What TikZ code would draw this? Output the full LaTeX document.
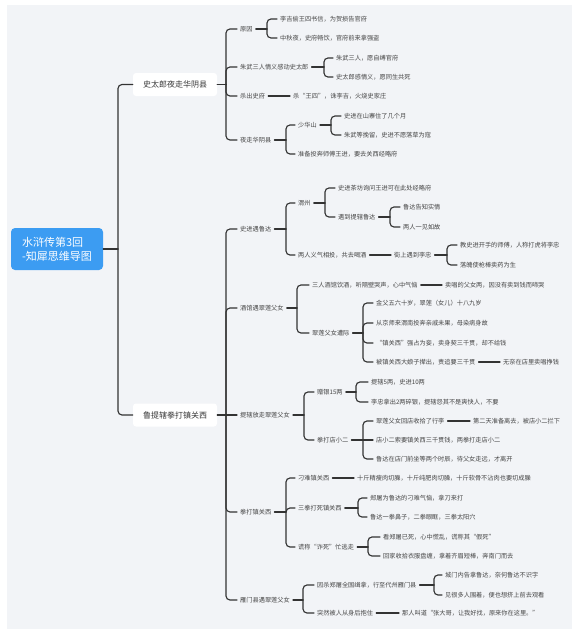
\documentclass[tikz,border=0pt]{standalone}
\usepackage{fontspec}
\setmainfont{Noto Sans CJK SC}
\newfontfamily\cjk{Noto Sans CJK SC}
\definecolor{bgc}{HTML}{F2F4F7}
\definecolor{linec}{HTML}{333333}
\definecolor{textc}{HTML}{444444}
\definecolor{rootc}{HTML}{3C9CF2}
\tikzset{
  txt/.style={anchor=west, inner xsep=3pt, inner ysep=1pt, font=\cjk\fontsize{6.2}{7.5}\selectfont, text=textc},
  branchbox/.style={fill=white, rounded corners=3pt, minimum width=84pt, minimum height=23pt, inner sep=0pt, font=\cjk\fontsize{8}{9}\selectfont, text=textc!80!black},
  rootbox/.style={fill=rootc, rounded corners=4pt, minimum width=92pt, minimum height=42pt, inner sep=0pt, text=white, font=\cjk\fontsize{11}{14}\selectfont, align=left},
  link/.style={draw=linec, line width=1.15pt, line cap=round},
  brk/.style={link, rounded corners=4pt},
}
\newcommand\nd[4]{\node[txt] (#1) at (#2,#3) {#4};}
\newcommand\kid[2]{\draw[brk] (#1) -- (#1 |- #2.west) -- (#2.west);}
\newcommand\straight[2]{\draw[link] (#1) -- (#2.west);}
\newcommand\jn[3]{\coordinate (#1) at (#2,#3);}
\begin{document}
\begin{tikzpicture}[x=1pt,y=-1pt]
\useasboundingbox (0,0) rectangle (576,634);
\fill[white] (0,0) rectangle (576,634);
\fill[bgc] (7,5) rectangle (572,629);

% root
\node[rootbox] (root) at (57,249) {水浒传第3回\\-知犀思维导图};
\node[branchbox] (b1) at (175,84.5) {史太郎夜走华阴县};
\node[branchbox] (b2) at (175,415) {鲁提辖拳打镇关西};
\jn{rj}{118}{249}
\draw[link] (root.east) -- (rj);
\draw[brk] (rj) -- (rj |- b1.west) -- (b1.west);
\draw[brk] (rj) -- (rj |- b2.west) -- (b2.west);

% ===== branch 1 =====
\nd{n11}{237}{29}{原因}
\nd{n12}{237}{67}{朱武三人情义感动史太郎}
\nd{n13}{237}{96}{杀出史府}
\nd{n14}{237}{140}{夜走华阴县}
\jn{j1}{226}{84.5}
\draw[link] (b1.east) -- (j1);
\kid{j1}{n11}\kid{j1}{n12}\kid{j1}{n13}\kid{j1}{n14}

\nd{n111}{277}{19}{李吉偷王四书信，为贺损告官府}
\nd{n112}{277}{38}{中秋夜，史府畅饮，官府前来拿强盗}
\jn{j11}{267}{29}
\draw[link] (n11.east) -- (j11);
\kid{j11}{n111}\kid{j11}{n112}

\nd{n121}{333}{58}{朱武三人，愿自缚官府}
\nd{n122}{333}{77}{史太郎感情义，愿同生共死}
\jn{j12}{324}{67}
\draw[link] (n12.east) -- (j12);
\kid{j12}{n121}\kid{j12}{n122}

\nd{n131}{290}{96}{杀“王四”，诛李吉，火烧史家庄}
\draw[link] (n13.east) -- (n131.west);

\nd{n141}{295}{125}{少华山}
\nd{n142}{295}{154}{准备投奔师傅王进，要去关西经略府}
\jn{j14}{286}{140}
\draw[link] (n14.east) -- (j14);
\kid{j14}{n141}\kid{j14}{n142}

\nd{n1411}{341}{116}{史进在山寨住了几个月}
\nd{n1412}{341}{135}{朱武等挽留，史进不愿落草为寇}
\jn{j141}{331}{125}
\draw[link] (n141.east) -- (j141);
\kid{j141}{n1411}\kid{j141}{n1412}

% ===== branch 2 =====
\nd{n21}{237}{229}{史进遇鲁达}
\nd{n22}{237}{308}{酒馆遇翠莲父女}
\nd{n23}{237}{415}{提辖放走翠莲父女}
\nd{n24}{237}{512}{拳打镇关西}
\nd{n25}{237}{600}{雁门县遇翠莲父女}
\jn{j2}{226}{415}
\draw[link] (b2.east) -- (j2);
\kid{j2}{n21}\kid{j2}{n22}\straight{j2}{n23}\kid{j2}{n24}\kid{j2}{n25}

% 史进遇鲁达
\nd{n211}{295}{203}{渭州}
\nd{n212}{295}{255}{两人义气相投，共去喝酒}
\jn{j21}{286}{229}
\draw[link] (n21.east) -- (j21);
\kid{j21}{n211}\kid{j21}{n212}

\nd{n2111}{335}{188}{史进茶坊询问王进可在此处经略府}
\nd{n2112}{335}{217}{遇到提辖鲁达}
\jn{j211}{325}{203}
\draw[link] (n211.east) -- (j211);
\kid{j211}{n2111}\kid{j211}{n2112}

\nd{n21121}{400}{207}{鲁达告知实情}
\nd{n21122}{400}{227}{两人一见如故}
\jn{j2112}{390}{217}
\draw[link] (n2112.east) -- (j2112);
\kid{j2112}{n21121}\kid{j2112}{n21122}

\nd{n2121}{391}{255}{街上遇到李忠}
\draw[link] (n212.east) -- (n2121.west);

\nd{n21211}{457}{245}{教史进开手的师傅，人称打虎将李忠}
\nd{n21212}{457}{265}{落魄使枪棒卖药为生}
\jn{j2121}{447}{255}
\draw[link] (n2121.east) -- (j2121);
\kid{j2121}{n21211}\kid{j2121}{n21212}

% 酒馆遇翠莲父女
\nd{n221}{309}{285}{三人酒馆饮酒，听隔壁哭声，心中气恼}
\nd{n222}{309}{333}{翠莲父女遭际}
\jn{j22}{297}{308}
\draw[link] (n22.east) -- (j22);
\kid{j22}{n221}\kid{j22}{n222}

\nd{n2211}{442}{285}{卖唱的父女两，因没有卖到钱而啼哭}
\draw[link] (n221.east) -- (n2211.west);

\nd{n2221}{373}{303}{金父五六十岁，翠莲（女儿）十八九岁}
\nd{n2222}{373}{323}{从京师来渭南投奔亲戚未果，母染病身故}
\nd{n2223}{373}{343}{“镇关西”强占为妾，卖身契三千贯，却不给钱}
\nd{n2224}{373}{362}{被镇关西大娘子撵出，责追要三千贯}
\jn{j222}{363}{333}
\draw[link] (n222.east) -- (j222);
\kid{j222}{n2221}\kid{j222}{n2222}\kid{j222}{n2223}\kid{j222}{n2224}

\nd{n22241}{500}{362}{无奈在店里卖唱挣钱}
\draw[link] (n2224.east) -- (n22241.west);

% 提辖放走翠莲父女
\nd{n231}{314}{392}{赠银15两}
\nd{n232}{314}{440}{拳打店小二}
\jn{j23}{304}{415}
\draw[link] (n23.east) -- (j23);
\kid{j23}{n231}\kid{j23}{n232}

\nd{n2311}{368}{382}{提辖5两，史进10两}
\nd{n2312}{368}{402}{李忠拿出2两碎银，提辖怨其不是爽快人，不要}
\jn{j231}{356}{392}
\draw[link] (n231.east) -- (j231);
\kid{j231}{n2311}\kid{j231}{n2312}

\nd{n2321}{373}{421}{翠莲父女回店收拾了行李}
\nd{n2322}{373}{440}{店小二索要镇关西三千贯钱，两拳打走店小二}
\nd{n2323}{373}{459}{鲁达在店门前坐等两个时辰，待父女走远，才离开}
\jn{j232}{363}{440}
\draw[link] (n232.east) -- (j232);
\kid{j232}{n2321}\straight{j232}{n2322}\kid{j232}{n2323}

\nd{n23211}{470}{421}{第二天准备离去，被店小二拦下}
\draw[link] (n2321.east) -- (n23211.west);

% 拳打镇关西
\nd{n241}{295}{478}{刁难镇关西}
\nd{n242}{295}{508}{三拳打死镇关西}
\nd{n243}{295}{547}{谎称“诈死”忙逃走}
\jn{j24}{286}{512}
\draw[link] (n24.east) -- (j24);
\kid{j24}{n241}\kid{j24}{n242}\kid{j24}{n243}

\nd{n2411}{354}{478}{十斤精瘦肉切臊，十斤纯肥肉切臊，十斤软骨不沾肉也要切成臊}
\draw[link] (n241.east) -- (n2411.west);

\nd{n2421}{367}{498}{郑屠为鲁达的刁难气恼，拿刀来打}
\nd{n2422}{367}{517}{鲁达一拳鼻子，二拳眼眶，三拳太阳穴}
\jn{j242}{358}{508}
\draw[link] (n242.east) -- (j242);
\kid{j242}{n2421}\kid{j242}{n2422}

\nd{n2431}{380}{537}{看郑屠已死，心中慌乱，谎称其“假死”}
\nd{n2432}{380}{556}{回家收拾衣服盘缠，拿着齐眉短棒，奔南门而去}
\jn{j243}{368}{547}
\draw[link] (n243.east) -- (j243);
\kid{j243}{n2431}\kid{j243}{n2432}

% 雁门县遇翠莲父女
\nd{n251}{314}{585}{因杀郑屠全国缉拿，行至代州雁门县}
\nd{n252}{314}{613}{突然被人从身后抱住}
\jn{j25}{303}{600}
\draw[link] (n25.east) -- (j25);
\kid{j25}{n251}\kid{j25}{n252}

\nd{n2511}{442}{575}{城门内告拿鲁达，奈何鲁达不识字}
\nd{n2512}{442}{595}{见很多人围着，便也想挤上前去观看}
\jn{j251}{434}{585}
\draw[link] (n251.east) -- (j251);
\kid{j251}{n2511}\kid{j251}{n2512}

\nd{n2521}{399}{613}{那人叫道“张大哥，让我好找，原来你在这里。”}
\draw[link] (n252.east) -- (n2521.west);
\end{tikzpicture}
\end{document}
